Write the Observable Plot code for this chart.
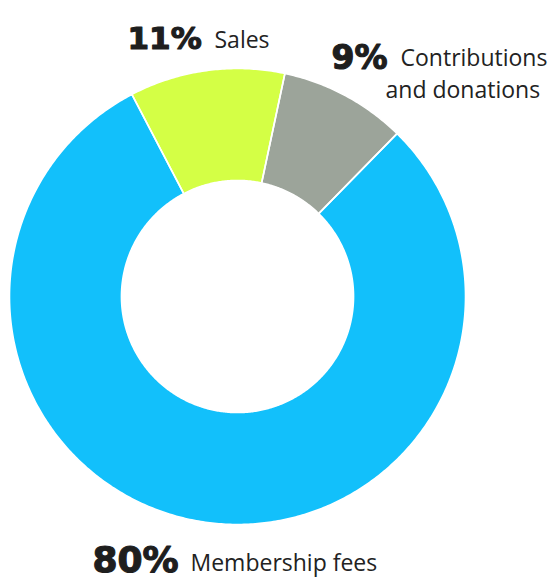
<!DOCTYPE html>
<html>
<head>
<meta charset="utf-8">
<script src="https://cdn.jsdelivr.net/npm/d3@7"></script>
<script src="https://cdn.jsdelivr.net/npm/@observablehq/plot@0.6"></script>
<style>
  html, body { margin: 0; padding: 0; background: #fff; }
</style>
</head>
<body>
<div id="chart"></div>
<script>
const categories = ["Sales", "Contributions and donations", "Membership fees"];
const values = [11, 9, 80];
const percentLabels = ["11%", "9%", "80%"];
const nameLines = [["Sales"], ["Contributions", "and donations"], ["Membership fees"]];
const colors = ["#d4ff45", "#9ca49a", "#12c0fb"];

const startAngle = -27.6 * Math.PI / 180;
const innerR = 0.509;
const outerR = 1;

const pie = d3.pie().sort(null).value(d => d.value)
  .startAngle(startAngle).endAngle(startAngle + 2 * Math.PI);
const arcs = pie(categories.map((c, i) => ({category: c, value: values[i]})));

// polygon points in data space (unit circle), drawn through Plot's x/y scales
const pts = [];
arcs.forEach(a => {
  const n = Math.max(8, Math.ceil((a.endAngle - a.startAngle) / 0.01));
  const poly = [];
  for (let k = 0; k <= n; k++) {
    const t = a.startAngle + (a.endAngle - a.startAngle) * k / n;
    poly.push({x: outerR * Math.sin(t), y: outerR * Math.cos(t)});
  }
  for (let k = n; k >= 0; k--) {
    const t = a.startAngle + (a.endAngle - a.startAngle) * k / n;
    poly.push({x: innerR * Math.sin(t), y: innerR * Math.cos(t)});
  }
  poly.push(poly[0]);
  poly.forEach(p => pts.push({...p, category: a.data.category}));
});

// label layout (data space: center at 0,0; radius 1)
const px = v => (v - 237) / 228;
const py = v => (296 - v) / 228;
const pctPos = [[127, 48, 31], [331, 68, 33], [92, 571, 36]];
const namePos = [[[214, 47]], [[400, 65], [385, 97]], [[190, 570]]];

const pctData = percentLabels.map((t, i) => ({text: t, x: px(pctPos[i][0]), y: py(pctPos[i][1]), size: pctPos[i][2]}));
const nameData = [];
nameLines.forEach((lines, i) => lines.forEach((t, j) => nameData.push({text: t, x: px(namePos[i][j][0]), y: py(namePos[i][j][1])})));

const plot = Plot.plot({
  width: 555,
  height: 578,
  margin: 0,
  x: {domain: [-1, 1], range: [9, 465], axis: null},
  y: {domain: [-1, 1], range: [524, 68], axis: null},
  color: {domain: categories, range: colors},
  style: {background: "#fff", overflow: "visible"},
  marks: [
    Plot.line(pts, {x: "x", y: "y", z: "category", fill: "category", stroke: "none"}),
    Plot.line(pts, {x: "x", y: "y", z: "category", stroke: "#ffffff", strokeWidth: 1.6, strokeLinejoin: "round"}),
    ...pctData.map(d => Plot.text([d], {
      x: "x", y: "y", text: "text", textAnchor: "start", lineAnchor: "bottom",
      fontSize: d.size, fontWeight: 900, fontFamily: "DejaVu Sans", fill: "#1e1e1e",
      stroke: "#1e1e1e", strokeWidth: 1.2, strokeLinejoin: "round"
    })),
    Plot.text(nameData, {
      x: "x", y: "y", text: "text", textAnchor: "start", lineAnchor: "bottom",
      fontSize: 23, fontFamily: "Open Sans", fill: "#222222"
    })
  ]
});
document.getElementById("chart").appendChild(plot);
</script>
</body>
</html>
